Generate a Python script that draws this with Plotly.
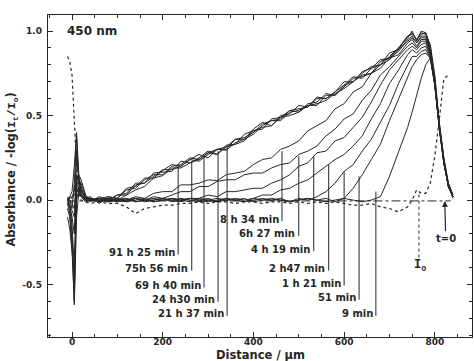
import plotly.graph_objects as go

# ---------------- data ----------------
distance = [-10, -5, 0, 5, 10, 15, 20, 30,
            40, 60, 80, 100, 120, 140, 160, 180, 200, 220, 240, 260, 280, 300,
            320, 340, 360, 380, 400, 420, 440, 460, 480, 500, 520, 540, 560, 580,
            600, 620, 640, 660, 680, 700, 720, 740,
            750, 760, 770, 780, 790, 800, 810, 820, 830, 840]

abs_91h25 = [-0.02, -0.08, -0.3, -0.6, 0.05, 0.08, 0.03, 0.01,
             0.02, -0.02, 0.02, 0.01, 0.07, 0.08, 0.13, 0.13, 0.175, 0.21, 0.2, 0.24, 0.27, 0.25,
             0.3, 0.315, 0.36, 0.36, 0.42, 0.46, 0.44, 0.5, 0.51, 0.56, 0.55, 0.61, 0.6, 0.64,
             0.7, 0.7, 0.76, 0.78, 0.8, 0.87, 0.89, 0.97,
             0.99, 0.95, 0.99, 0.98, 0.92, 0.74, 0.46, 0.25, 0.1, 0.03]
abs_75h56 = [0.0, -0.05, -0.2, -0.55, 0.1, 0.1, 0.05, 0.02,
             -0.01, 0.02, 0.0, 0.03, 0.04, 0.1, 0.1, 0.16, 0.165, 0.17, 0.23, 0.22, 0.25, 0.29,
             0.27, 0.325, 0.33, 0.39, 0.41, 0.42, 0.48, 0.49, 0.53, 0.52, 0.57, 0.58, 0.63, 0.62,
             0.68, 0.73, 0.72, 0.78, 0.83, 0.84, 0.9, 0.96,
             1.0, 0.94, 1.0, 0.99, 0.9, 0.72, 0.44, 0.23, 0.08, 0.02]
abs_69h40 = [-0.1, -0.17, -0.3, -0.45, 0.0, 0.06, 0.04, 0.0,
             0.0, 0.01, 0.02, 0.01, 0.06, 0.07, 0.12, 0.15, 0.15, 0.2, 0.21, 0.25, 0.24, 0.28,
             0.3, 0.3, 0.36, 0.37, 0.4, 0.45, 0.47, 0.48, 0.53, 0.54, 0.55, 0.6, 0.6, 0.64,
             0.68, 0.7, 0.75, 0.79, 0.8, 0.85, 0.9, 0.97,
             0.98, 0.95, 0.98, 0.99, 0.91, 0.7, 0.43, 0.22, 0.09, 0.01]
abs_24h30 = [0.01, -0.02, -0.15, -0.4, 0.15, 0.12, 0.06, 0.01,
             0.01, 0.0, 0.0, 0.03, 0.03, 0.09, 0.1, 0.14, 0.18, 0.18, 0.2, 0.24, 0.23, 0.27,
             0.3, 0.295, 0.34, 0.36, 0.39, 0.44, 0.47, 0.47, 0.52, 0.53, 0.56, 0.56, 0.62, 0.62,
             0.67, 0.72, 0.73, 0.75, 0.82, 0.84, 0.88, 0.95,
             0.97, 0.93, 0.97, 0.97, 0.9, 0.71, 0.45, 0.24, 0.1, 0.03]
abs_21h37 = [-0.05, -0.1, -0.25, -0.62, -0.1, 0.05, 0.02, -0.01,
             0.0, -0.01, 0.01, 0.0, 0.03, 0.06, 0.08, 0.13, 0.145, 0.19, 0.19, 0.22, 0.24, 0.28,
             0.27, 0.315, 0.33, 0.35, 0.41, 0.43, 0.44, 0.49, 0.5, 0.52, 0.56, 0.57, 0.59, 0.63,
             0.66, 0.7, 0.74, 0.75, 0.8, 0.83, 0.89, 0.94,
             0.96, 0.93, 0.96, 0.96, 0.89, 0.7, 0.44, 0.24, 0.08, 0.02]
abs_8h34 = [0.0, 0.02, 0.05, 0.2, 0.4, 0.15, 0.12, 0.03,
            0.0, 0.01, -0.01, 0.01, 0.0, 0.02, 0.01, 0.04, 0.05, 0.05, 0.09, 0.09, 0.1, 0.12,
            0.115, 0.15, 0.16, 0.17, 0.21, 0.24, 0.25, 0.3, 0.32, 0.35, 0.41, 0.44, 0.47, 0.54,
            0.57, 0.64, 0.67, 0.75, 0.78, 0.84, 0.86, 0.93,
            0.95, 0.91, 0.95, 0.95, 0.88, 0.7, 0.44, 0.23, 0.09, 0.02]
abs_6h27 = [0.02, 0.0, -0.05, 0.1, 0.38, 0.1, 0.1, 0.02,
            0.01, -0.01, 0.0, 0.01, -0.01, 0.01, 0.0, 0.02, 0.01, 0.03, 0.05, 0.05, 0.08, 0.08,
            0.11, 0.12, 0.12, 0.15, 0.16, 0.16, 0.19, 0.21, 0.22, 0.27, 0.29, 0.32, 0.38, 0.42,
            0.48, 0.51, 0.59, 0.65, 0.74, 0.79, 0.85, 0.91,
            0.93, 0.9, 0.94, 0.94, 0.87, 0.69, 0.43, 0.22, 0.08, 0.02]
abs_4h19 = [-0.01, -0.03, -0.1, -0.2, 0.3, 0.14, 0.08, 0.0,
            0.0, 0.01, -0.01, 0.0, 0.01, -0.01, 0.0, 0.01, 0.0, 0.01, 0.0, 0.01, 0.01, 0.03,
            0.02, 0.05, 0.05, 0.06, 0.07, 0.07, 0.1, 0.12, 0.15, 0.2, 0.22, 0.28, 0.29, 0.35,
            0.37, 0.43, 0.49, 0.58, 0.68, 0.77, 0.83, 0.89,
            0.91, 0.89, 0.92, 0.93, 0.86, 0.69, 0.43, 0.22, 0.09, 0.02]
abs_2h47 = [0.0, 0.01, 0.02, 0.05, 0.25, 0.12, 0.06, 0.02,
            0.01, 0.0, 0.01, -0.01, 0.0, 0.01, -0.01, 0.0, 0.01, 0.0, -0.01, 0.01, 0.0, 0.01,
            -0.01, 0.0, 0.01, 0.0, 0.01, 0.03, 0.03, 0.06, 0.07, 0.1, 0.12, 0.16, 0.2, 0.24,
            0.27, 0.32, 0.38, 0.48, 0.57, 0.69, 0.77, 0.86,
            0.89, 0.87, 0.9, 0.91, 0.85, 0.68, 0.42, 0.22, 0.08, 0.02]
abs_1h21 = [-0.02, -0.04, -0.06, -0.1, 0.15, 0.09, 0.04, 0.0,
            0.0, -0.01, 0.01, 0.0, -0.01, 0.0, 0.01, -0.01, 0.0, 0.01, 0.0, -0.01, 0.01, 0.0,
            -0.01, 0.01, 0.0, 0.01, -0.01, 0.0, 0.01, 0.0, -0.01, 0.01, 0.0, 0.02, 0.05, 0.1,
            0.17, 0.21, 0.29, 0.36, 0.46, 0.56, 0.69, 0.8,
            0.85, 0.85, 0.88, 0.89, 0.84, 0.68, 0.42, 0.22, 0.08, 0.02]
abs_51min = [0.01, 0.0, -0.02, -0.05, 0.1, 0.06, 0.03, 0.01,
             0.01, 0.0, -0.01, 0.0, 0.01, -0.01, 0.0, 0.0, 0.01, -0.01, 0.0, 0.01, 0.0, -0.01,
             0.0, 0.01, 0.0, -0.01, 0.01, 0.0, 0.0, 0.01, -0.01, 0.0, 0.01, 0.0, 0.01, -0.01,
             0.01, 0.07, 0.15, 0.24, 0.33, 0.47, 0.6, 0.73,
             0.79, 0.83, 0.86, 0.87, 0.84, 0.68, 0.42, 0.22, 0.08, 0.02]
abs_9min = [0.0, 0.02, 0.01, 0.03, 0.06, 0.04, 0.02, 0.0,
            0.0, 0.01, 0.0, -0.01, 0.0, 0.01, 0.0, -0.01, 0.0, 0.0, 0.01, 0.0, -0.01, 0.0,
            0.01, 0.0, 0.0, -0.01, 0.0, 0.01, 0.0, 0.0, -0.01, 0.0, 0.01, 0.0, -0.01, 0.0,
            0.01, 0.0, -0.01, 0.0, 0.02, 0.14, 0.28, 0.43,
            0.52, 0.62, 0.72, 0.8, 0.84, 0.69, 0.43, 0.22, 0.08, 0.02]
abs_t0 = [0.85, 0.82, 0.74, 0.5, 0.2, 0.04, 0.0, -0.01,
          -0.02, -0.01, -0.02, -0.02, -0.04, -0.08, -0.05, -0.04, -0.03, -0.03, -0.02, -0.02, -0.01, -0.02,
          -0.01, -0.01, -0.02, -0.01, -0.01, -0.02, -0.01, -0.01, -0.02, -0.01, -0.02, -0.01, -0.02, -0.01,
          -0.02, -0.03, -0.03, -0.02, -0.04, -0.05, -0.07, -0.04,
          0.0, 0.06, 0.04, 0.04, 0.1, 0.26, 0.48, 0.72, 0.74, None]

curves = [("91 h 25 min", abs_91h25), ("75h 56 min", abs_75h56), ("69 h 40 min", abs_69h40),
          ("24 h30 min", abs_24h30), ("21 h 37 min", abs_21h37), ("8 h 34 min", abs_8h34),
          ("6h 27 min", abs_6h27), ("4 h 19 min", abs_4h19), ("2 h47 min", abs_2h47),
          ("1 h 21 min", abs_1h21), ("51 min", abs_51min), ("9 min", abs_9min)]

x_ticks = [0, 200, 400, 600, 800]
y_ticks = [-0.5, 0.0, 0.5, 1.0]
y_ticklabels = ["-0.5", "0.0", "0.5", "1.0"]

# label leader geometry (layout, not data)
leader_x = [234, 264, 291, 322, 342, 463, 500, 533, 566, 600, 633, 670]
leader_top = [0.21, 0.23, 0.26, 0.29, 0.31, 0.29, 0.26, 0.26, 0.21, 0.17, 0.14, 0.05]
label_y = [-0.31, -0.405, -0.506, -0.589, -0.673, -0.113, -0.20, -0.29, -0.405, -0.494, -0.577, -0.673]

INK = "#262626"
FONT = "DejaVu Sans"

fig = go.Figure()

fig.add_shape(type="line", xref="x", yref="y", x0=-10, x1=835, y0=-0.005, y1=-0.005,
              line=dict(color=INK, width=1, dash="dashdot"), layer="below")

for name, vals in curves:
    fig.add_trace(go.Scatter(x=distance, y=vals, mode="lines", name=name,
                             line=dict(color=INK, width=1), showlegend=False))
fig.add_trace(go.Scatter(x=distance, y=abs_t0, mode="lines", name="t = 0",
                         line=dict(color=INK, width=1.2, dash="dot"), showlegend=False))

for (name, _), lx, lt, ly in zip(curves, leader_x, leader_top, label_y):
    fig.add_shape(type="line", xref="x", yref="y", x0=lx, x1=lx, y0=ly - 0.012, y1=lt,
                  line=dict(color=INK, width=1))
    fig.add_annotation(x=lx - 3, y=ly, xref="x", yref="y", text=name, showarrow=False,
                       xanchor="right", yanchor="middle",
                       font=dict(family=FONT, size=10, color=INK, weight="bold"))

# Io marker
fig.add_shape(type="line", xref="x", yref="y", x0=765, x1=765, y0=-0.34, y1=0.05,
              line=dict(color=INK, width=1, dash="dot"))
fig.add_annotation(x=768, y=-0.39, xref="x", yref="y",
                   text="I<sub>o</sub>", showarrow=False,
                   font=dict(family="Liberation Mono", size=12, color=INK, weight="bold"))
# t = 0 arrow
fig.add_annotation(x=822, y=-0.005, ax=824, ay=-0.225, xref="x", yref="y", axref="x", ayref="y",
                   text="t=0", showarrow=True, arrowhead=2, arrowsize=1, arrowwidth=1.2,
                   arrowcolor=INK, font=dict(family=FONT, size=10, color=INK, weight="bold"))
# wavelength
fig.add_annotation(x=44, y=1.0, xref="x", yref="y", text="450 nm", showarrow=False,
                   font=dict(family=FONT, size=12, color=INK, weight="bold"))
# axis titles
fig.add_annotation(x=0.5, y=0, xref="paper", yref="paper", yanchor="top", yshift=-9,
                   text="Distance / µm", showarrow=False,
                   font=dict(family=FONT, size=11.5, color=INK, weight="bold"))
fig.add_annotation(x=0, y=0.52, xref="paper", yref="paper", xanchor="center", yanchor="middle",
                   xshift=-36, textangle=-90,
                   text="Absorbance / -log(<span style='font-family:Liberation Mono'>I<sub>t</sub>/I<sub>o</sub></span>)",
                   showarrow=False,
                   font=dict(family=FONT, size=11.5, color=INK, weight="bold"))

axis_common = dict(showgrid=False, zeroline=False, showline=True, linecolor=INK, linewidth=1.3,
                   mirror="allticks", ticks="inside", ticklen=5, tickcolor=INK, tickwidth=1,
                   tickfont=dict(family=FONT, size=9, color=INK, weight="bold"))
fig.update_xaxes(range=[-53, 882], tickvals=x_ticks,
                 minor=dict(dtick=50, tick0=0, ticks="inside", ticklen=3, tickcolor=INK),
                 ticklabelstandoff=-4, **axis_common)
fig.update_yaxes(range=[-0.81, 1.095], tickvals=y_ticks, ticktext=y_ticklabels,
                 minor=dict(dtick=0.1, tick0=0, ticks="inside", ticklen=3, tickcolor=INK),
                 ticklabelstandoff=3, **axis_common)

fig.update_layout(width=474, height=361, margin=dict(l=48, r=2, t=15, b=24),
                  paper_bgcolor="white", plot_bgcolor="white")

fig.write_html("out.html", config={"displayModeBar": False},
               post_script="document.body.style.margin='0';")
